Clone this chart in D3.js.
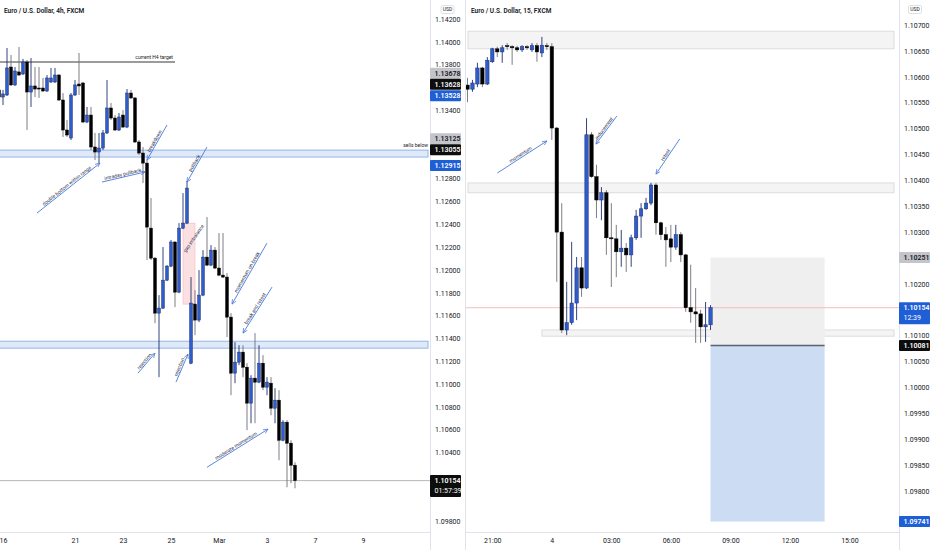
<!DOCTYPE html>
<html>
<head>
<meta charset="utf-8">
<script src="https://cdn.jsdelivr.net/npm/d3@7"></script>
<style>
  body { margin: 0; background: #fff; }
  svg { display: block; font-family: Roboto, "Noto Sans", sans-serif; }
</style>
</head>
<body>
<svg id="chart" width="932" height="550"></svg>
<script>
// ---- 4h panel data (index -1 = first partly visible bar) ----
const h4Start = -1;
// [open, high, low, close]
const h4Candles = [
  [1.13578, 1.13622, 1.13490, 1.13516], [1.13516, 1.13578, 1.13446, 1.13543],
  [1.13534, 1.13946, 1.13525, 1.13771], [1.13779, 1.13885, 1.13613, 1.13622],
  [1.13622, 1.13779, 1.13613, 1.13744], [1.13736, 1.13955, 1.13700, 1.13709],
  [1.13718, 1.13850, 1.13709, 1.13823], [1.13823, 1.13841, 1.13227, 1.13560],
  [1.13560, 1.13858, 1.13429, 1.13613], [1.13613, 1.13779, 1.13516, 1.13586],
  [1.13595, 1.13779, 1.13508, 1.13586], [1.13595, 1.13683, 1.13560, 1.13569],
  [1.13569, 1.13709, 1.13560, 1.13683], [1.13648, 1.13771, 1.13639, 1.13683],
  [1.13648, 1.13771, 1.13639, 1.13709], [1.13709, 1.13718, 1.13481, 1.13490],
  [1.13490, 1.13551, 1.13166, 1.13227], [1.13227, 1.13315, 1.13166, 1.13183],
  [1.13157, 1.13551, 1.13139, 1.13534], [1.13534, 1.13665, 1.13525, 1.13622],
  [1.13630, 1.13902, 1.13534, 1.13613], [1.13639, 1.13648, 1.13288, 1.13297],
  [1.13297, 1.13429, 1.13288, 1.13358], [1.13358, 1.13429, 1.13051, 1.13078],
  [1.13078, 1.13201, 1.12964, 1.13034], [1.13034, 1.13201, 1.12937, 1.13069],
  [1.13069, 1.13227, 1.13051, 1.13201], [1.13201, 1.13665, 1.13192, 1.13420],
  [1.13420, 1.13464, 1.13315, 1.13332], [1.13332, 1.13358, 1.13218, 1.13227],
  [1.13227, 1.13376, 1.13218, 1.13341], [1.13358, 1.13402, 1.13244, 1.13253],
  [1.13253, 1.13586, 1.13244, 1.13551], [1.13551, 1.13578, 1.13499, 1.13508],
  [1.13508, 1.13516, 1.13113, 1.13122], [1.13122, 1.13139, 1.13008, 1.13025],
  [1.13025, 1.13078, 1.12762, 1.12937], [1.12937, 1.12964, 1.12087, 1.12376],
  [1.12367, 1.12631, 1.12087, 1.12104], [1.12104, 1.12113, 1.11534, 1.11622],
  [1.11622, 1.11780, 1.11061, 1.11666], [1.11666, 1.12201, 1.11657, 1.11911],
  [1.11911, 1.12043, 1.11903, 1.12034], [1.12034, 1.12262, 1.12025, 1.12245],
  [1.12245, 1.12253, 1.11675, 1.11806], [1.11806, 1.12411, 1.11797, 1.12367],
  [1.12367, 1.12674, 1.12359, 1.12411], [1.12411, 1.12780, 1.12403, 1.12718],
  [1.11183, 1.11938, 1.11175, 1.11710], [1.11701, 1.11824, 1.11429, 1.11561],
  [1.11561, 1.11999, 1.11543, 1.11780], [1.11780, 1.12174, 1.11771, 1.12113],
  [1.12113, 1.12464, 1.12034, 1.12043], [1.12043, 1.12218, 1.12034, 1.12174],
  [1.12174, 1.12201, 1.12008, 1.12017], [1.12017, 1.12324, 1.11946, 1.11955],
  [1.11955, 1.12324, 1.11929, 1.11938], [1.11938, 1.11973, 1.11412, 1.11587],
  [1.11587, 1.11622, 1.10903, 1.11096], [1.11096, 1.11368, 1.11008, 1.11192],
  [1.11192, 1.11341, 1.11166, 1.11280], [1.11280, 1.11341, 1.11061, 1.11148],
  [1.11148, 1.11183, 1.10596, 1.10833], [1.10833, 1.11078, 1.10657, 1.11052],
  [1.11052, 1.11447, 1.10657, 1.11017], [1.11017, 1.11341, 1.11008, 1.11183],
  [1.11183, 1.11254, 1.10947, 1.10973], [1.10973, 1.11061, 1.10903, 1.11017],
  [1.11008, 1.11061, 1.10727, 1.10789], [1.10789, 1.10964, 1.10657, 1.10859],
  [1.10859, 1.10947, 1.10333, 1.10508], [1.10508, 1.10684, 1.10499, 1.10666],
  [1.10666, 1.10684, 1.10096, 1.10482], [1.10482, 1.10508, 1.10131, 1.10289],
  [1.10289, 1.10315, 1.10087, 1.10154]
];
const h4DateIdx = [0, 18, 30, 42, 54, 66, 78, 90];
const h4DateText = ['16', '21', '23', '25', 'Mar', '3', '7', '9'];
const h4PriceTicks = [1.098, 1.100, 1.102, 1.104, 1.106, 1.108, 1.110, 1.112, 1.114, 1.116,
  1.118, 1.120, 1.122, 1.124, 1.126, 1.128, 1.130, 1.132, 1.134, 1.136, 1.138, 1.140, 1.142];
const h4LabelPrices = [1.13678, 1.13628, 1.13528, 1.13125, 1.13055, 1.12915, 1.10154];
const h4LabelKinds = ['gray', 'black', 'blue', 'gray', 'black', 'blue', 'black'];
const h4LabelSub = ['', '', '', '', '', '', '01:57:39'];
const h4Last = 1.10154;
const h4Target = {price: 1.13823, from: -1, to: 43, text: 'current H4 target'};
const h4ZoneTop = [1.13051, 1.11376];
const h4ZoneBottom = [1.12990, 1.11315];
const h4ZoneEnd = 106.25;
const h4Gap = {from: 45, to: 48, top: 1.12411, bottom: 1.11701};
const h4NoteText = ['double bottom within range', 'intraday pullback', 'breakdown', 'pullback',
  'gap imbalance', 'momentum on break', 'break and retest', 'rejection', 'rejection', 'moderate momentum'];
const h4NoteFrom = [[8.5, 1.12499], [24.75, 1.12771], [41, 1.13271], [51, 1.13078], [46, 1.12148],
  [66, 1.12236], [67.25, 1.11850], [33.75, 1.11096], [43.25, 1.11017], [51, 1.10271]];
const h4NoteTo = [[24.25, 1.12937], [35.5, 1.12859], [36, 1.12964], [46, 1.12771], [50.5, 1.12376],
  [57.25, 1.11701], [60, 1.11447], [38, 1.11271], [46.25, 1.11263], [66.25, 1.10605]];
const h4NoteArrow = [true, true, true, true, false, true, true, true, true, true];

// ---- 15m panel data (index 0 = 21:00) ----
const m15Start = -5;
const m15Candles = [
  [1.10584, 1.10598, 1.10551, 1.10576], [1.10576, 1.10594, 1.10571, 1.10588],
  [1.10586, 1.10627, 1.10580, 1.10617], [1.10617, 1.10619, 1.10580, 1.10586],
  [1.10586, 1.10638, 1.10584, 1.10632], [1.10629, 1.10656, 1.10627, 1.10654],
  [1.10654, 1.10658, 1.10638, 1.10648], [1.10648, 1.10661, 1.10627, 1.10656],
  [1.10660, 1.10665, 1.10652, 1.10658], [1.10658, 1.10661, 1.10623, 1.10656],
  [1.10656, 1.10660, 1.10648, 1.10652], [1.10652, 1.10661, 1.10648, 1.10658],
  [1.10658, 1.10661, 1.10652, 1.10656], [1.10652, 1.10665, 1.10648, 1.10660],
  [1.10660, 1.10665, 1.10629, 1.10648], [1.10646, 1.10677, 1.10638, 1.10661],
  [1.10660, 1.10665, 1.10652, 1.10658], [1.10658, 1.10665, 1.10478, 1.10501],
  [1.10501, 1.10503, 1.10204, 1.10300], [1.10300, 1.10356, 1.10105, 1.10111],
  [1.10111, 1.10204, 1.10101, 1.10125], [1.10125, 1.10281, 1.10121, 1.10163],
  [1.10163, 1.10252, 1.10130, 1.10231], [1.10231, 1.10252, 1.10175, 1.10192],
  [1.10192, 1.10520, 1.10190, 1.10488], [1.10488, 1.10493, 1.10405, 1.10407],
  [1.10407, 1.10430, 1.10327, 1.10362], [1.10362, 1.10387, 1.10323, 1.10376],
  [1.10376, 1.10381, 1.10256, 1.10289], [1.10289, 1.10356, 1.10194, 1.10287],
  [1.10287, 1.10314, 1.10213, 1.10262], [1.10262, 1.10304, 1.10233, 1.10269],
  [1.10269, 1.10279, 1.10223, 1.10256], [1.10256, 1.10295, 1.10233, 1.10289],
  [1.10289, 1.10343, 1.10285, 1.10331], [1.10331, 1.10356, 1.10289, 1.10345],
  [1.10345, 1.10366, 1.10343, 1.10356], [1.10356, 1.10395, 1.10352, 1.10391],
  [1.10391, 1.10395, 1.10295, 1.10318], [1.10318, 1.10320, 1.10285, 1.10295],
  [1.10295, 1.10310, 1.10233, 1.10285], [1.10287, 1.10314, 1.10242, 1.10271],
  [1.10271, 1.10314, 1.10266, 1.10295], [1.10295, 1.10300, 1.10242, 1.10256],
  [1.10256, 1.10258, 1.10146, 1.10154], [1.10154, 1.10237, 1.10125, 1.10146],
  [1.10146, 1.10192, 1.10086, 1.10142], [1.10142, 1.10150, 1.10086, 1.10117],
  [1.10117, 1.10165, 1.10088, 1.10121], [1.10121, 1.10159, 1.10111, 1.10154]
];
const m15TimeIdx = [0, 12, 24, 36, 48, 60, 72];
const m15TimeText = ['21:00', '4', '03:00', '06:00', '09:00', '12:00', '15:00'];
const m15PriceTicks = [1.0975, 1.0980, 1.0985, 1.0990, 1.0995, 1.1000, 1.1005, 1.1010, 1.1015, 1.1020,
  1.1025, 1.1030, 1.1035, 1.1040, 1.1045, 1.1050, 1.1055, 1.1060, 1.1065, 1.1070];
const m15LabelPrices = [1.10251, 1.10154, 1.10081, 1.09741];
const m15LabelKinds = ['gray', 'blue', 'black', 'blue'];
const m15LabelSub = ['', '12:39', '', ''];
const m15Last = 1.10154;
const m15ZoneTop = [1.10688, 1.10395, 1.10111];
const m15ZoneBottom = [1.10654, 1.10376, 1.10099];
const m15ZoneFrom = [-4.9, -4.9, 10];
const m15ZoneEnd = 81;
const m15Position = {from: 44, to: 67, stop: 1.10251, entry: 1.10081, target: 1.09741};
const m15NoteText = ['momentum', 'inducement', 'retest'];
const m15NoteFrom = [[1, 1.10414], [25.1, 1.10524], [37.8, 1.10480]];
const m15NoteTo = [[11, 1.10476], [20.9, 1.10470], [33, 1.10412]];

// ---- layout ----
const H = 550, axisY = 532;
const left = {x0: 0, x1: 430, title: 'Euro / U.S. Dollar, 4h, FXCM'};
const right = {x0: 466, x1: 899, title: 'Euro / U.S. Dollar, 15, FXCM'};
const upFill = '#2f5ccc', upStroke = '#1c2f6e', wickColor = '#6f7178', arrowColor = '#4a78d8';
const labelBg = {gray: '#c3c5cb', black: '#0d0d0d', blue: '#1f5fd6'};
const labelFg = {gray: '#131722', black: '#ffffff', blue: '#ffffff'};

const xL = d3.scaleLinear().domain([0, 90]).range([3, 363]);
const yL = d3.scaleLinear().domain([1.098, 1.142]).range([521, 19]);
const xR = d3.scaleLinear().domain([0, 72]).range([492.3, 849.4]);
const yR = d3.scaleLinear().domain([1.098, 1.107]).range([491, 25]);

const svg = d3.select('#chart');
const defs = svg.append('defs');
defs.append('clipPath').attr('id', 'clipL').append('rect')
  .attr('x', left.x0).attr('y', 0).attr('width', left.x1 - left.x0).attr('height', axisY);
defs.append('clipPath').attr('id', 'clipR').append('rect')
  .attr('x', right.x0).attr('y', 0).attr('width', right.x1 - right.x0).attr('height', axisY);
defs.append('marker').attr('id', 'head')
  .attr('viewBox', '0 0 8 8').attr('refX', 7.5).attr('refY', 4)
  .attr('markerWidth', 5).attr('markerHeight', 5).attr('markerUnits', 'userSpaceOnUse')
  .attr('orient', 'auto')
  .append('path').attr('d', 'M0,0.5L7.5,4L0,7.5').attr('fill', 'none')
  .attr('stroke', arrowColor).attr('stroke-width', 1.1);

svg.append('rect').attr('width', 932).attr('height', H).attr('fill', '#fff');

function drawCandles(g, data, start, x, y, w) {
  g.append('g').selectAll('line').data(data).join('line')
    .attr('x1', (d, i) => x(start + i)).attr('x2', (d, i) => x(start + i))
    .attr('y1', d => y(d[1])).attr('y2', d => y(d[2]))
    .attr('stroke', d => d[3] >= d[0] ? upStroke : wickColor).attr('stroke-width', 0.9);
  g.append('g').selectAll('rect').data(data).join('rect')
    .attr('x', (d, i) => x(start + i) - w / 2)
    .attr('y', d => y(Math.max(d[0], d[3])))
    .attr('width', w)
    .attr('height', d => Math.max(1, Math.abs(y(d[0]) - y(d[3]))))
    .attr('fill', d => d[3] >= d[0] ? upFill : '#000')
    .attr('stroke', d => d[3] >= d[0] ? upStroke : '#000')
    .attr('stroke-width', 0.5);
}

function drawNote(g, from, to, label, x, y, withArrow) {
  const x1 = x(from[0]), y1 = y(from[1]), x2 = x(to[0]), y2 = y(to[1]);
  if (withArrow) {
    g.append('line').attr('x1', x1).attr('y1', y1).attr('x2', x2).attr('y2', y2)
      .attr('stroke', arrowColor).attr('stroke-width', 0.9).attr('marker-end', 'url(#head)');
  }
  let a = Math.atan2(y2 - y1, x2 - x1) * 180 / Math.PI;
  if (a > 90) a -= 180;
  if (a < -90) a += 180;
  g.append('text')
    .attr('transform', `translate(${(x1 + x2) / 2},${(y1 + y2) / 2}) rotate(${a})`)
    .attr('dy', -1.2).attr('text-anchor', 'middle')
    .attr('font-size', 5).attr('fill', '#2e3350').text(label);
}

// work out where the coloured price labels sit, pushing overlaps upward
function layoutLabels(prices, kinds, subs, y) {
  const boxes = prices.map((p, i) => ({p, kind: kinds[i], sub: subs[i], y: y(p)}));
  const sorted = boxes.slice().sort((a, b) => b.y - a.y);
  for (let i = 1; i < sorted.length; i++) {
    const below = sorted[i - 1];
    if (below.y - sorted[i].y < 11) sorted[i].y = below.y - 11;
  }
  boxes.forEach(b => { b.top = b.y - 5.5; b.bottom = b.top + (b.sub ? 22 : 11); });
  return boxes;
}

function priceAxis(xPos, y, ticks, boxes) {
  // tick labels hidden behind a coloured label are skipped
  const free = ticks.filter(t => boxes.every(b => y(t) + 3 < b.top || y(t) - 3 > b.bottom));
  const ax = d3.axisRight(y).tickValues(free).tickSize(0).tickPadding(5)
    .tickFormat(d3.format('.5f'));
  const g = svg.append('g').attr('transform', `translate(${xPos},0)`).call(ax);
  g.select('.domain').remove();
  g.selectAll('text').attr('font-size', 7).attr('fill', '#131722')
    .attr('font-family', 'Roboto, sans-serif');
}

function timeAxis(x, idx, text, x0, x1) {
  const ax = d3.axisBottom(x).tickValues(idx).tickSize(0).tickPadding(6)
    .tickFormat((d, i) => text[i]);
  const g = svg.append('g').attr('transform', `translate(0,${axisY})`).call(ax);
  g.select('.domain').remove();
  g.selectAll('text').attr('font-size', 7).attr('fill', '#131722')
    .attr('font-family', 'Roboto, sans-serif');
  svg.append('line').attr('x1', x0).attr('x2', x1).attr('y1', axisY + 0.5).attr('y2', axisY + 0.5)
    .attr('stroke', '#e0e3eb');
}

function priceLabels(boxes, x0) {
  const g = svg.append('g');
  boxes.forEach(b => {
    g.append('rect').attr('x', x0).attr('y', b.top).attr('width', 31).attr('height', b.bottom - b.top)
      .attr('rx', 1).attr('fill', labelBg[b.kind]);
    g.append('text').attr('x', x0 + 4.5).attr('y', b.y).attr('dy', '0.35em')
      .attr('font-size', 7).attr('font-weight', 600).attr('fill', labelFg[b.kind])
      .text(d3.format('.5f')(b.p));
    if (b.sub) {
      g.append('text').attr('x', x0 + 4.5).attr('y', b.y + 10).attr('dy', '0.35em')
        .attr('font-size', 7).attr('fill', labelFg[b.kind]).text(b.sub);
    }
  });
}

function usdBox(cx) {
  svg.append('rect').attr('x', cx - 6.5).attr('y', 5.5).attr('width', 13).attr('height', 8)
    .attr('rx', 1.5).attr('fill', '#fff').attr('stroke', '#c9ccd4').attr('stroke-width', 0.6);
  svg.append('text').attr('x', cx).attr('y', 9.6).attr('dy', '0.35em').attr('text-anchor', 'middle')
    .attr('font-size', 5).attr('fill', '#131722').text('USD');
}

// ---------------- left panel ----------------
const gL = svg.append('g').attr('clip-path', 'url(#clipL)');
gL.selectAll('rect.zone').data(h4ZoneTop).join('rect').attr('class', 'zone')
  .attr('x', xL(-1)).attr('y', d => yL(d))
  .attr('width', xL(h4ZoneEnd) - xL(-1))
  .attr('height', (d, i) => yL(h4ZoneBottom[i]) - yL(d))
  .attr('fill', '#dfe9f8').attr('stroke', '#8aaee8').attr('stroke-width', 0.9);
gL.append('rect').attr('x', xL(h4Gap.from)).attr('y', yL(h4Gap.top))
  .attr('width', xL(h4Gap.to) - xL(h4Gap.from)).attr('height', yL(h4Gap.bottom) - yL(h4Gap.top))
  .attr('fill', '#fbe0e2').attr('stroke', '#f3b9bf').attr('stroke-width', 0.6);
gL.append('line').attr('x1', xL(-1)).attr('x2', left.x1)
  .attr('y1', yL(h4Last)).attr('y2', yL(h4Last)).attr('stroke', '#b8b8b8').attr('stroke-width', 1);
gL.append('line').attr('x1', xL(h4Target.from)).attr('x2', xL(h4Target.to))
  .attr('y1', yL(h4Target.price)).attr('y2', yL(h4Target.price)).attr('stroke', '#222').attr('stroke-width', 0.9);
drawCandles(gL, h4Candles, h4Start, xL, yL, 2.8);
gL.append('text').attr('x', xL(h4Target.to) - 2).attr('y', yL(h4Target.price) - 3)
  .attr('text-anchor', 'end').attr('font-size', 5).attr('fill', '#222').text(h4Target.text);
gL.append('text').attr('x', xL(h4ZoneEnd)).attr('y', yL(h4ZoneTop[0]) - 3)
  .attr('text-anchor', 'end').attr('font-size', 5).attr('fill', '#222').text('sells below');
h4NoteText.forEach((t, i) => drawNote(gL, h4NoteFrom[i], h4NoteTo[i], t, xL, yL, h4NoteArrow[i]));

// ---------------- right panel ----------------
const gR = svg.append('g').attr('clip-path', 'url(#clipR)');
gR.selectAll('rect.zone').data(m15ZoneTop).join('rect').attr('class', 'zone')
  .attr('x', (d, i) => xR(m15ZoneFrom[i])).attr('y', d => yR(d))
  .attr('width', (d, i) => xR(m15ZoneEnd) - xR(m15ZoneFrom[i]))
  .attr('height', (d, i) => yR(m15ZoneBottom[i]) - yR(d))
  .attr('fill', '#f4f4f5').attr('stroke', '#d9d9dc').attr('stroke-width', 0.9);
gR.append('rect').attr('x', xR(m15Position.from)).attr('y', yR(m15Position.stop))
  .attr('width', xR(m15Position.to) - xR(m15Position.from))
  .attr('height', yR(m15Position.entry) - yR(m15Position.stop)).attr('fill', '#efeff0');
gR.append('rect').attr('x', xR(m15Position.from)).attr('y', yR(m15Position.entry))
  .attr('width', xR(m15Position.to) - xR(m15Position.from))
  .attr('height', yR(m15Position.target) - yR(m15Position.entry)).attr('fill', '#cbdcf3');
gR.append('line').attr('x1', xR(m15Position.from)).attr('x2', xR(m15Position.to))
  .attr('y1', yR(m15Position.entry)).attr('y2', yR(m15Position.entry))
  .attr('stroke', '#5d6270').attr('stroke-width', 1.6);
gR.append('line').attr('x1', right.x0).attr('x2', right.x1)
  .attr('y1', yR(m15Last)).attr('y2', yR(m15Last)).attr('stroke', '#f3b4ba').attr('stroke-width', 0.9);
drawCandles(gR, m15Candles, m15Start, xR, yR, 3.4);
m15NoteText.forEach((t, i) => drawNote(gR, m15NoteFrom[i], m15NoteTo[i], t, xR, yR, true));

// ---------------- frames, axes, labels ----------------
svg.append('line').attr('x1', left.x1 + 0.5).attr('x2', left.x1 + 0.5).attr('y1', 0).attr('y2', H)
  .attr('stroke', '#e0e3eb');
svg.append('line').attr('x1', right.x0 - 0.5).attr('x2', right.x0 - 0.5).attr('y1', 0).attr('y2', H)
  .attr('stroke', '#e0e3eb');
svg.append('line').attr('x1', right.x1 + 0.5).attr('x2', right.x1 + 0.5).attr('y1', 0).attr('y2', H)
  .attr('stroke', '#e0e3eb');

const h4Boxes = layoutLabels(h4LabelPrices, h4LabelKinds, h4LabelSub, yL);
const m15Boxes = layoutLabels(m15LabelPrices, m15LabelKinds, m15LabelSub, yR);
priceAxis(left.x1, yL, h4PriceTicks, h4Boxes);
priceAxis(right.x1, yR, m15PriceTicks, m15Boxes);
timeAxis(xL, h4DateIdx, h4DateText, left.x0, left.x1);
timeAxis(xR, m15TimeIdx, m15TimeText, right.x0, right.x1);
priceLabels(h4Boxes, left.x1);
priceLabels(m15Boxes, right.x1);
usdBox(447.5);
usdBox(915);

svg.append('text').attr('x', 4).attr('y', 11).attr('dy', '0.35em').attr('font-size', 6.5)
  .attr('font-weight', 600).attr('fill', '#131722').text(left.title);
svg.append('text').attr('x', right.x0 + 5).attr('y', 11).attr('dy', '0.35em').attr('font-size', 6.5)
  .attr('font-weight', 600).attr('fill', '#131722').text(right.title);
</script>
</body>
</html>
